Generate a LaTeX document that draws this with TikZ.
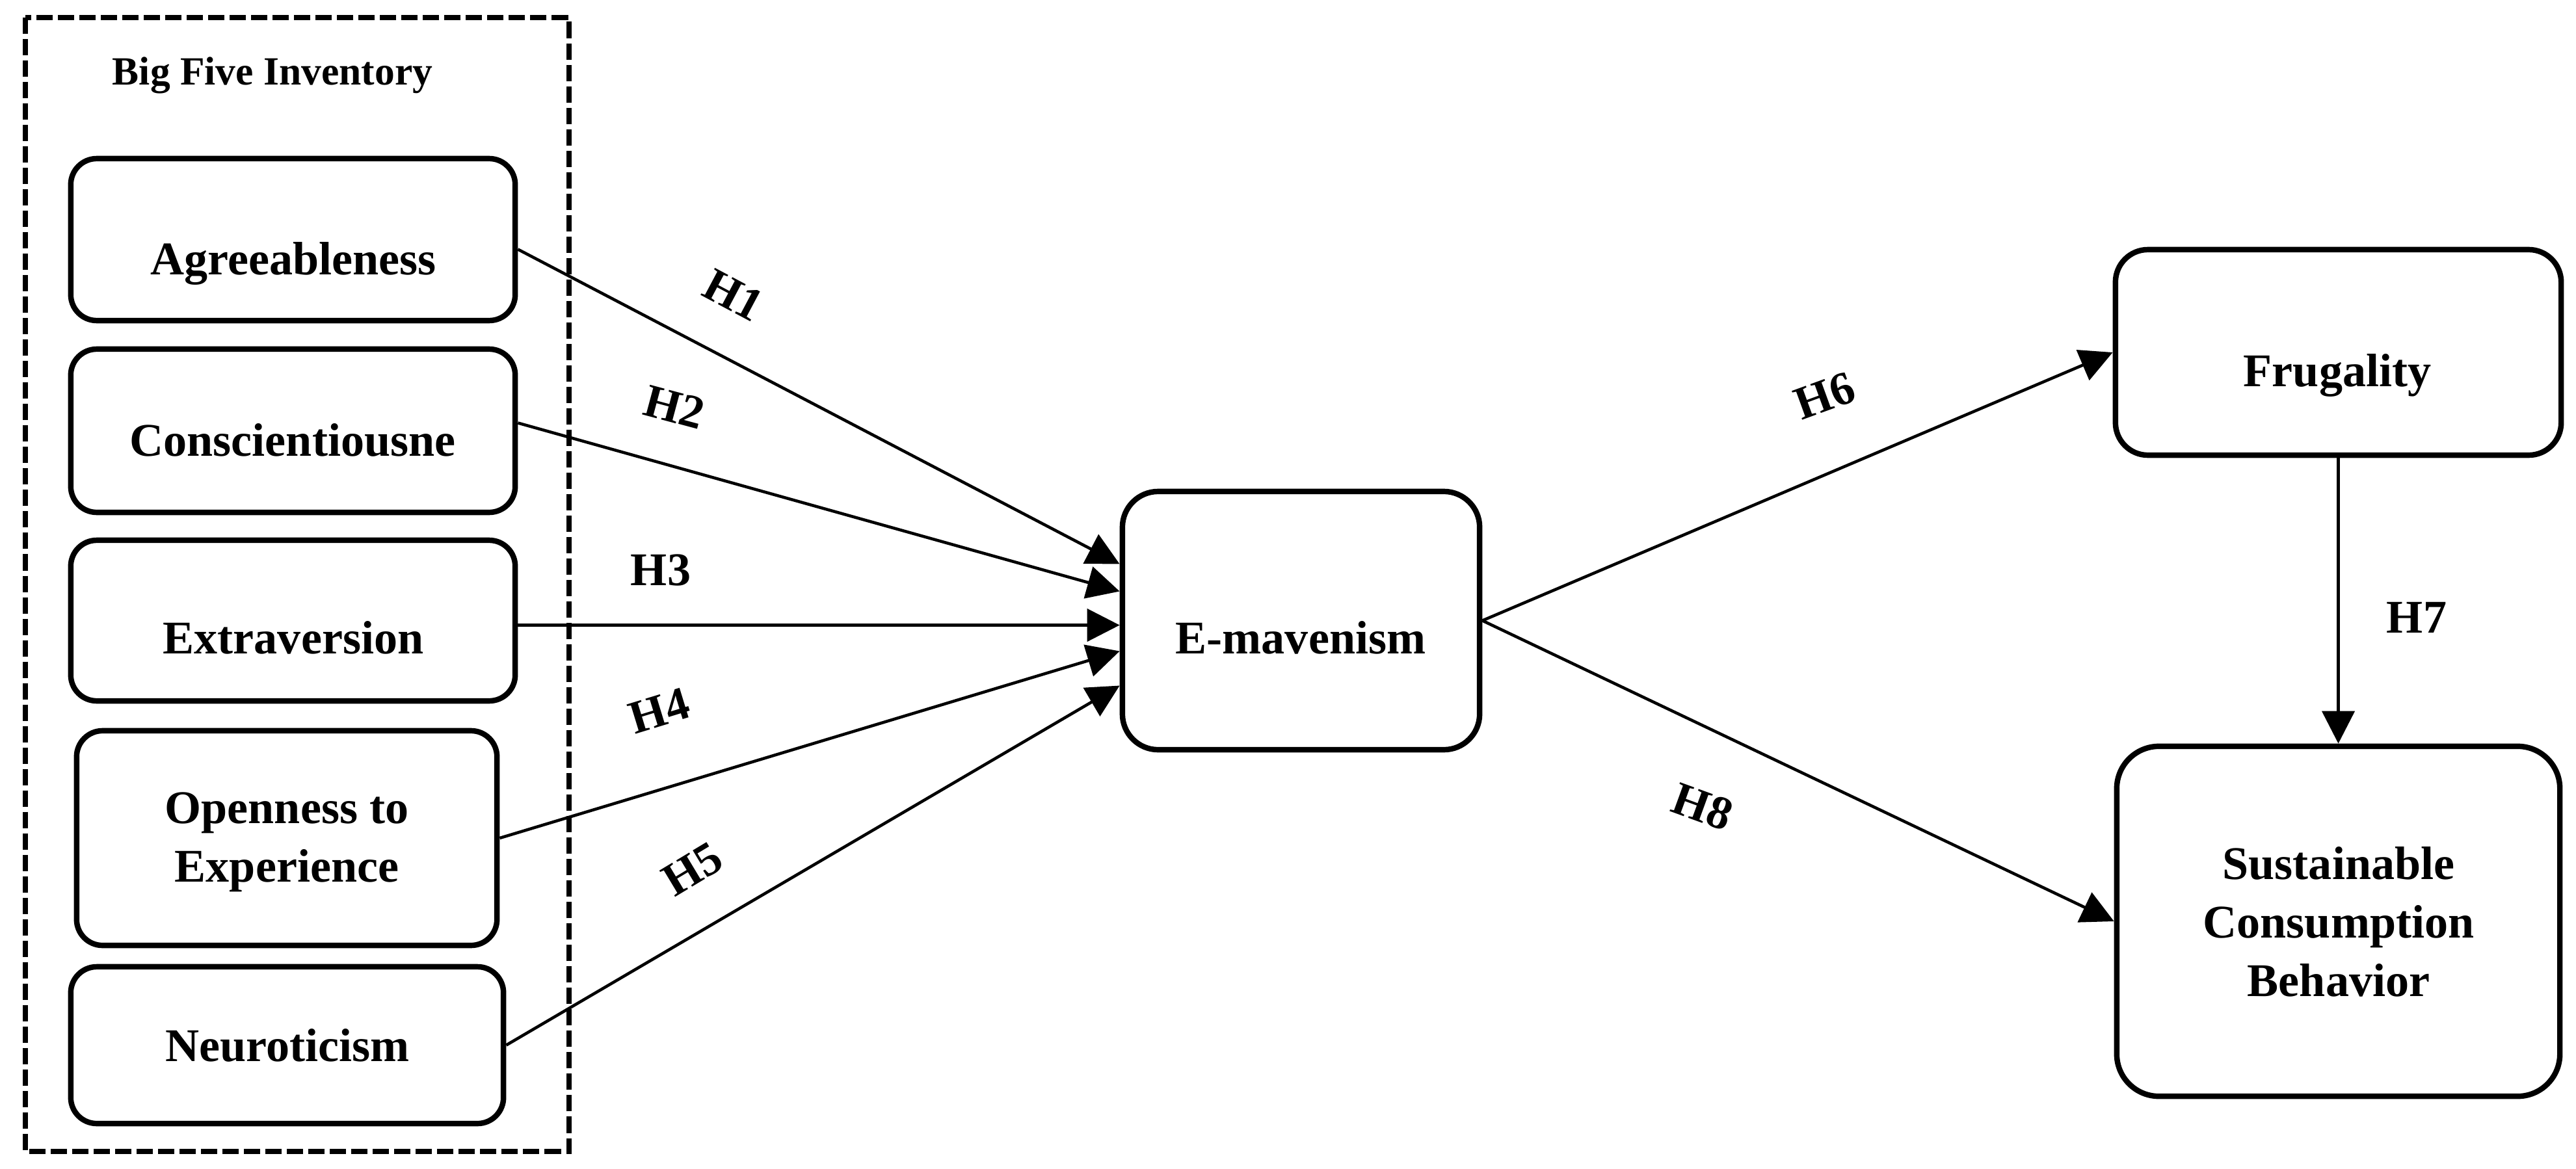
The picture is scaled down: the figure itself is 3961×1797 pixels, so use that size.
\documentclass[tikz,border=0pt]{standalone}
\usepackage{fontspec}
\setmainfont{Liberation Serif}
\usetikzlibrary{arrows.meta,calc}
\tikzset{
  box/.style={draw, line width=2.4pt, rounded corners=0.4cm, inner sep=0pt, fill=white},
  lab/.style={font=\fontsize{20.5}{25.6}\selectfont\bfseries, inner sep=0pt, anchor=base},
  hlab/.style={font=\fontsize{20.5}{25.6}\selectfont\bfseries, inner sep=0pt, anchor=center},
  conn/.style={line width=1.3pt, -{Triangle[length=0.5cm,width=0.5cm]}},
  groupbox/.style={draw, line width=2.5pt, dash pattern=on 0.25cm off 0.08cm}
}
\begin{document}
\begin{tikzpicture}[x=0.01cm, y=-0.01cm]
\useasboundingbox (0,0) rectangle (3961,1797);
\fill[white] (0,0) rectangle (3961,1797);

% group frame
\draw[groupbox] (39,27) rectangle (875,1771);
\node[lab, font=\fontsize{17.5}{21}\selectfont\bfseries] (bfi) at (419,131) {Big Five Inventory};

% boxes
\node[box, minimum width=6.83cm, minimum height=2.49cm] (agr) at (450.5,368.5) {};
\node[box, minimum width=6.83cm, minimum height=2.51cm] (con) at (450.5,662.5) {};
\node[box, minimum width=6.83cm, minimum height=2.47cm] (ext) at (450.5,954.5) {};
\node[box, minimum width=6.46cm, minimum height=3.30cm] (ope) at (441,1289) {};
\node[box, minimum width=6.65cm, minimum height=2.41cm] (neu) at (441.5,1607.5) {};
\node[box, rounded corners=0.55cm, minimum width=5.49cm, minimum height=3.97cm] (em) at (2000.5,954.5) {};
\node[box, rounded corners=0.5cm, minimum width=6.85cm, minimum height=3.16cm] (fru) at (3595.5,542) {};
\node[box, rounded corners=0.65cm, minimum width=6.81cm, minimum height=5.38cm] (scb) at (3595.5,1417) {};

% box texts
\node[lab] (agrt) at (451,422) {Agreeableness};
\node[lab] (cont) at (450,701) {Conscientiousne};
\node[lab] (extt) at (451,1005) {Extraversion};
\node[lab, anchor=center, align=center] (opet) at (441,1295) {Openness to\\Experience};
\node[lab] (neut) at (442,1632) {Neuroticism};
\node[lab] (emt) at (2000,1005) {E-mavenism};
\node[lab] (frut) at (3594,594) {Frugality};
\node[lab, anchor=center, align=center] (scbt) at (3596,1418) {Sustainable\\Consumption\\Behavior};

% connectors
\draw[conn] ($(agr.east)+(0,15)$) -- ($(em.west)+(0,-87)$);
\draw[conn] ($(con.east)+(0,-12)$) -- ($(em.west)+(0,-45)$);
\draw[conn] ($(ext.east)+(0,7)$) -- ($(em.west)+(0,7)$);
\draw[conn] (ope.east) -- ($(em.west)+(0,47)$);
\draw[conn] (neu.east) -- ($(em.west)+(0,100)$);
\draw[conn] (em.east) -- (fru.west);
\draw[conn] (em.east) -- (scb.west);
\draw[conn] (fru.south) -- (scb.north);

% hypothesis labels
\node[hlab, rotate=-28] (h1) at (1128,454) {H1};
\node[hlab, rotate=-15] (h2) at (1037,626) {H2};
\node[hlab] (h3) at (1016,877) {H3};
\node[hlab, rotate=17] (h4) at (1014,1093) {H4};
\node[hlab, rotate=31] (h5) at (1065,1337) {H5};
\node[hlab, rotate=20] (h6) at (2806,609) {H6};
\node[hlab] (h7) at (3716,950) {H7};
\node[hlab, rotate=-20] (h8) at (2618,1241) {H8};
\end{tikzpicture}
\end{document}
